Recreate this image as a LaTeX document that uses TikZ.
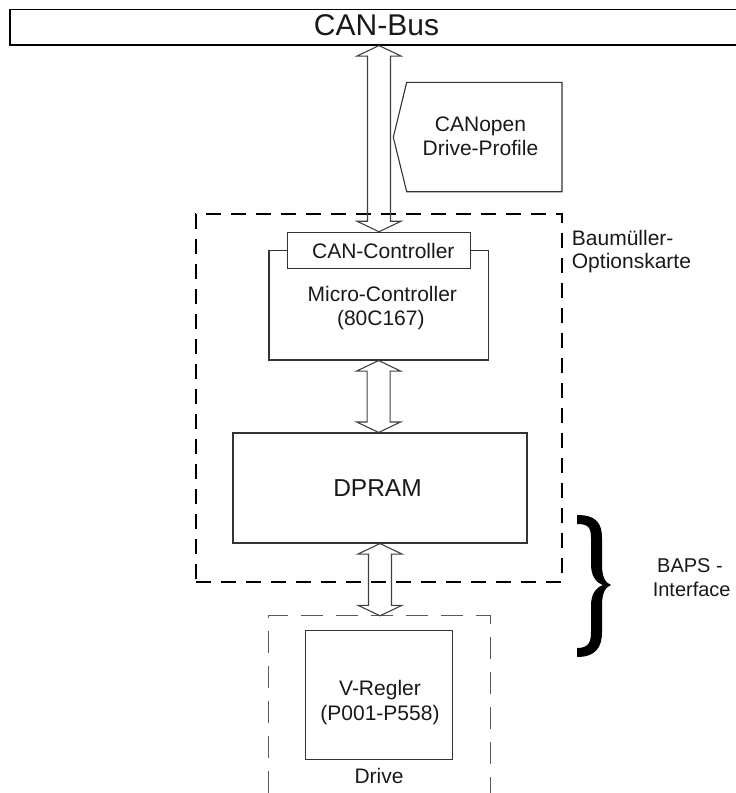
\documentclass[tikz,border=0pt]{standalone}
\usepackage{fontspec}
\setmainfont{Liberation Sans}
\usetikzlibrary{calc}

% double-headed block arrow from the point #1 (upper tip) down to #2 (lower tip)
\newcommand\dblarrow[2]{%
  \draw[blockarrow] let \p1=(#1), \p2=(#2) in
    (\x1,\y1) -- (\x1+22pt,\y1-10.5pt) -- (\x1+11.5pt,\y1-10.5pt)
    -- (\x1+11.5pt,\y2+10.5pt) -- (\x1+22pt,\y2+10.5pt) -- (\x1,\y2)
    -- (\x1-22pt,\y2+10.5pt) -- (\x1-11.5pt,\y2+10.5pt)
    -- (\x1-11.5pt,\y1-10.5pt) -- (\x1-22pt,\y1-10.5pt) -- cycle;}

\begin{document}
\begin{tikzpicture}[x=1pt,y=-1pt,
  box/.style={draw=black!80, line width=1.1pt, inner sep=0pt},
  txt/.style={inner sep=0pt, anchor=base, text=black!90,
    font=\fontsize{21pt}{24pt}\selectfont},
  blockarrow/.style={draw=black!75, line width=1.1pt, line join=miter},
  cardframe/.style={draw=black, line width=2pt, dash pattern=on 15pt off 10pt, inner sep=0pt},
  driveframe/.style={draw=black!65, line width=1.2pt, dash pattern=on 22pt off 13pt},
]
\useasboundingbox (0,0) rectangle (736,793);

% bus bar
\node[box, draw=black, minimum width=735pt, minimum height=35.5pt] (bus) at (377.5,27.25) {};
\node[txt, font=\fontsize{30pt}{34pt}\selectfont] (bustext) at (376.5,35) {CAN-Bus};

% profile tag
\draw[box] (406.7,82.3) -- (562,82.3) -- (562,191.7) -- (406.7,191.7) -- (393.3,137.3) -- cycle;
\node[txt] (canopen) at (480.5,131) {CANopen};
\node[txt] (profile) at (480.5,155) {Drive-Profile};

% option card
\node[cardframe, minimum width=366pt, minimum height=368pt] (card) at (379,398) {};
\node[txt, anchor=base west] (cardname1) at (571.7,245) {Baumüller-};
\node[txt, anchor=base west] (cardname2) at (571.7,268) {Optionskarte};

\node[box, minimum width=219.3pt, minimum height=109.3pt] (micro) at (378.65,305.35) {};
\node[box, fill=white, minimum width=183.4pt, minimum height=36pt] (canctrl) at (379,250.3) {};
\node[txt] (canctrltext) at (383.3,258.3) {CAN-Controller};
\node[txt] (microtext1) at (382.3,301.7) {Micro-Controller};
\node[txt] (microtext2) at (380.8,325.5) {(80C167)};

\node[box, minimum width=294pt, minimum height=110pt] (dpram) at (380,488) {};
\node[txt, font=\fontsize{24.5pt}{28pt}\selectfont] (dpramtext) at (377.5,496) {DPRAM};

% drive
\node[inner sep=0pt, minimum width=221pt, minimum height=177pt] (drive) at (379.5,704.5) {};
\draw[driveframe] (drive.south west) |- (drive.north east) -- (drive.south east);
\node[box, minimum width=147.7pt, minimum height=128.6pt] (vregler) at (379,695) {};
\node[txt] (vreglertext1) at (380,695) {V-Regler};
\node[txt] (vreglertext2) at (380,720.5) {(P001-P558)};
\node[txt] (drivetext) at (379,783) {Drive};

% data paths
\dblarrow{canctrl.north |- bus.south}{canctrl.north}
\dblarrow{micro.south}{micro.south |- dpram.north}
\dblarrow{dpram.south}{dpram.south |- drive.north}

% interface brace
\fill[black]
  (577,515) .. controls (595,515) and (602,522) .. (602,538) -- (602,565)
  .. controls (602,576) and (605,583) .. (611,585)
  .. controls (605,587) and (602,594) .. (602,605) -- (602,632)
  .. controls (602,648) and (595,657) .. (577,657) -- (577,648)
  .. controls (588,648) and (591,643) .. (591,632) -- (591,606)
  .. controls (591,595) and (595,588) .. (603,585)
  .. controls (595,582) and (591,575) .. (591,564) -- (591,538)
  .. controls (591,527) and (588,524) .. (577,524) -- cycle;
\node[txt, font=\fontsize{20pt}{24pt}\selectfont] (baps1) at (690,572.7) {BAPS -};
\node[txt, font=\fontsize{20pt}{24pt}\selectfont] (baps2) at (691.7,596.7) {Interface};
\end{tikzpicture}
\end{document}
